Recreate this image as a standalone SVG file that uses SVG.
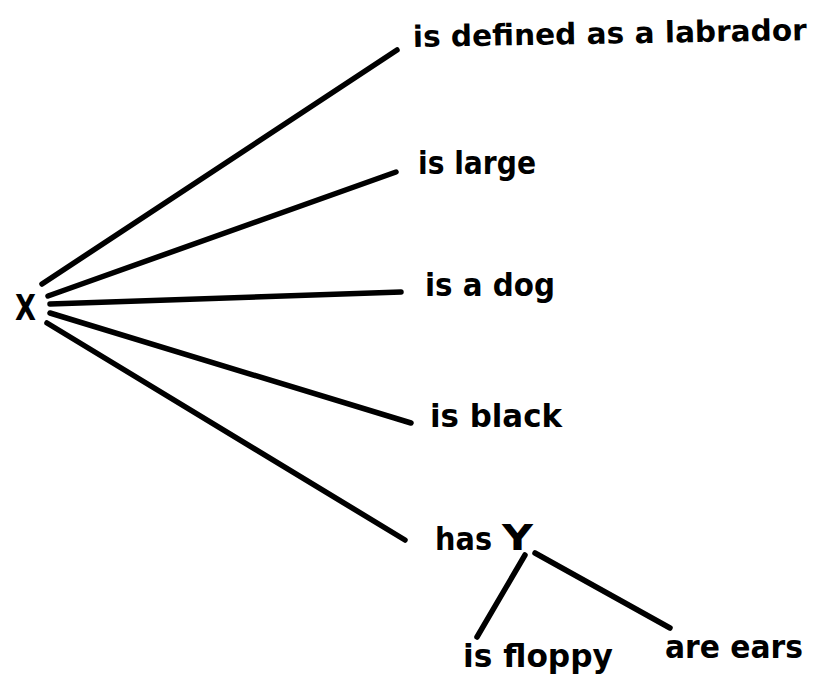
<svg xmlns="http://www.w3.org/2000/svg" width="821" height="677" viewBox="0 0 821 677">
<style>
.l{stroke:#000;stroke-width:5.5;stroke-linecap:round;fill:none}
text{font-family:"DejaVu Sans","Liberation Sans",sans-serif;font-weight:bold;fill:#000}
.t{font-size:32px}
.t2{font-size:29.5px}
.big{font-size:35px}
</style>
<rect width="821" height="677" fill="#fff"/>
<g id="connectors">
<line class="l" x1="42" y1="284" x2="397" y2="50"/>
<line class="l" x1="48" y1="296" x2="396" y2="172"/>
<line class="l" x1="50" y1="304" x2="401" y2="292"/>
<line class="l" x1="50" y1="313" x2="411" y2="423"/>
<line class="l" x1="47" y1="323" x2="405" y2="540"/>
<line class="l" x1="525" y1="555" x2="477" y2="637"/>
<line class="l" x1="535" y1="553" x2="670" y2="628"/>
</g>
<g id="X"><text class="big" x="15" y="320" textLength="21" lengthAdjust="spacingAndGlyphs">X</text></g>
<g id="labrador"><text class="t2" x="413" y="47" textLength="394" lengthAdjust="spacingAndGlyphs" transform="rotate(-1 413 47)">is defined as a labrador</text></g>
<g id="large"><text class="t" x="418" y="174" textLength="118" lengthAdjust="spacingAndGlyphs">is large</text></g>
<g id="dog"><text class="t" x="425" y="296" textLength="130" lengthAdjust="spacingAndGlyphs">is a dog</text></g>
<g id="black"><text class="t" x="430" y="427" textLength="132" lengthAdjust="spacingAndGlyphs">is black</text></g>
<g id="hasY"><text class="t" x="435" y="550" textLength="57" lengthAdjust="spacingAndGlyphs">has</text><text class="big" x="502" y="550" textLength="31" lengthAdjust="spacingAndGlyphs">Y</text></g>
<g id="floppy"><text class="t" x="463" y="667" textLength="150" lengthAdjust="spacingAndGlyphs">is floppy</text></g>
<g id="ears"><text class="t" x="665" y="658" textLength="138" lengthAdjust="spacingAndGlyphs">are ears</text></g>
</svg>
